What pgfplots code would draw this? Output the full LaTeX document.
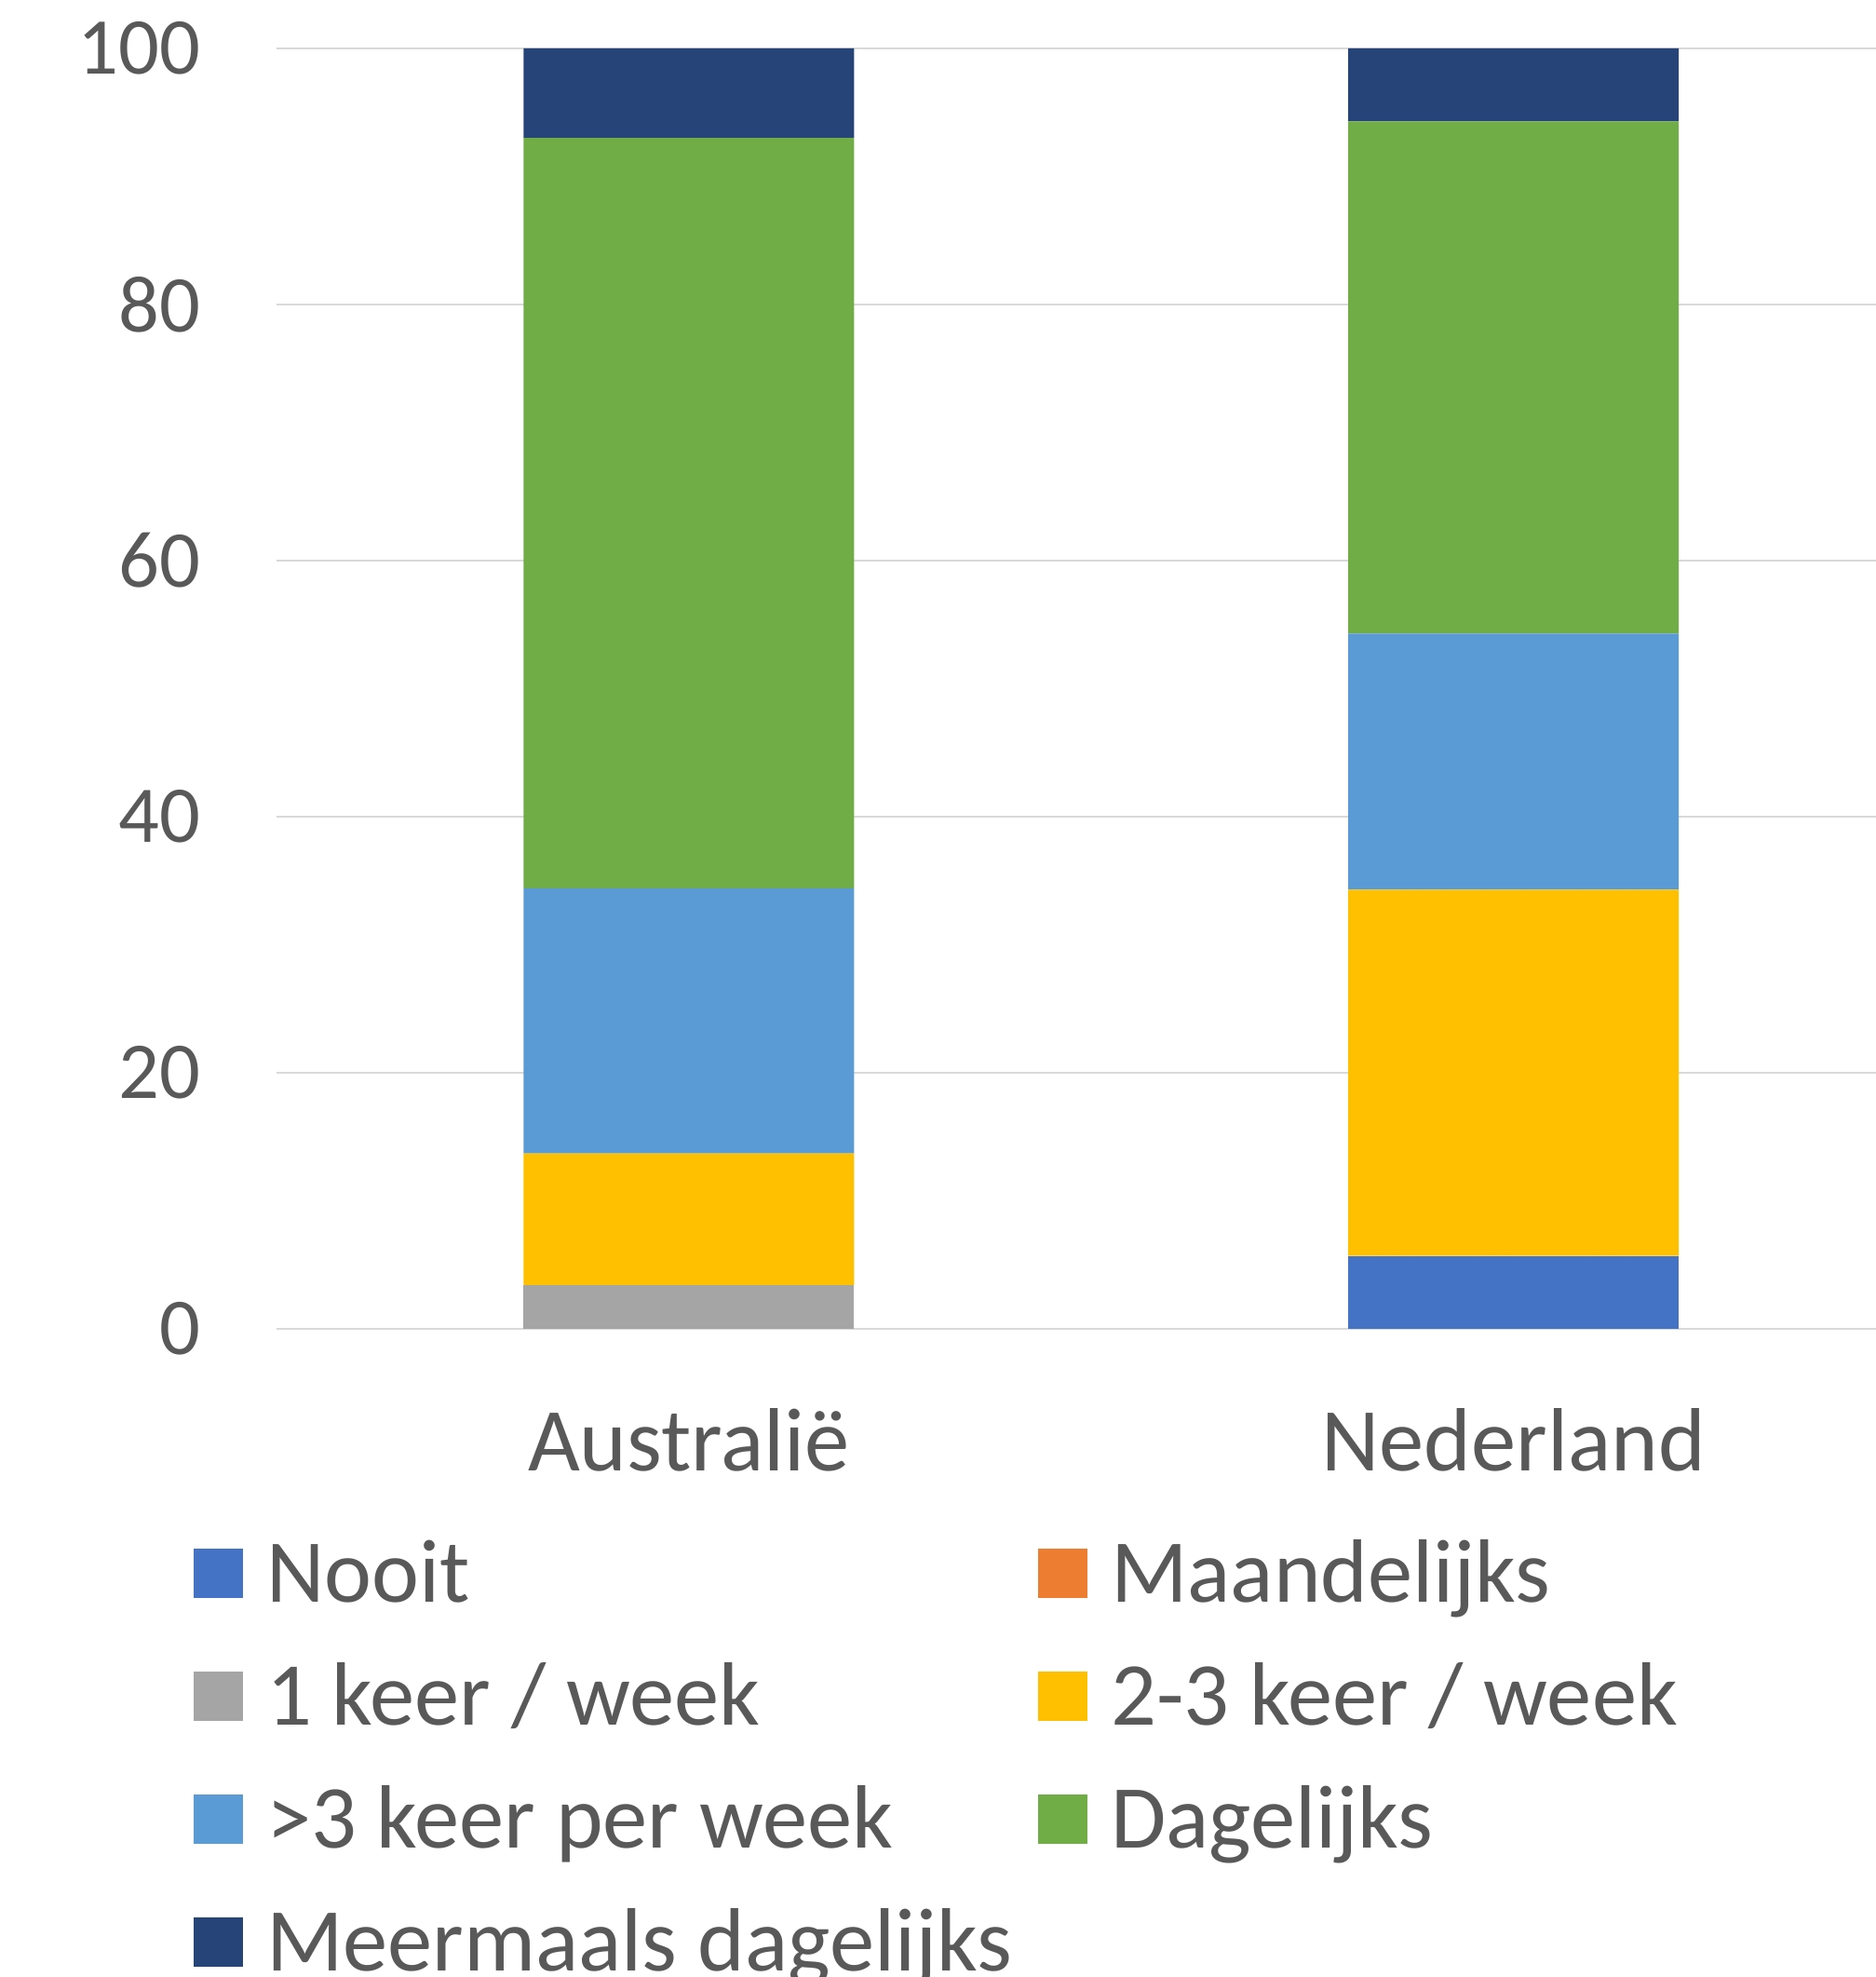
\documentclass[border=0pt]{standalone}
\usepackage{pgfplots}
\pgfplotsset{compat=1.18}
\usepackage{fontspec}
\setmainfont{Carlito}
\definecolor{txt}{HTML}{595959}
\definecolor{gridc}{HTML}{D9D9D9}
\definecolor{cNooit}{HTML}{4472C4}
\definecolor{cMaand}{HTML}{ED7D31}
\definecolor{cEen}{HTML}{A5A5A5}
\definecolor{cTwee}{HTML}{FFC000}
\definecolor{cDrie}{HTML}{5B9BD5}
\definecolor{cDag}{HTML}{70AD47}
\definecolor{cMeer}{HTML}{264478}
\begin{document}
\begin{tikzpicture}
\useasboundingbox (-59.4pt,-139.2pt) rectangle (343.6pt,285.4pt);
\begin{axis}[
  at={(0pt,0pt)}, anchor=south west,
  scale only axis, width=354.3pt, height=275pt,
  xmin=-0.5, xmax=1.5, ymin=0, ymax=100,
  enlargelimits=false,
  ybar stacked, bar width=71pt,
  axis line style={draw=none},
  major tick length=0pt,
  ymajorgrids, xmajorgrids=false,
  grid style={gridc, line width=0.45pt},
  xtick={0,1}, xticklabels={Australië, Nederland},
  ytick={0,20,40,60,80,100},
  /pgf/number format/assume math mode=true,
  yticklabel style={anchor=east, inner sep=0pt, xshift=-16.2pt, font=\fontsize{17.3}{21}\selectfont, text=txt},
  xticklabel style={anchor=base, inner sep=0pt, yshift=-30.5pt, font=\fontsize{19.3}{23}\selectfont, text=txt},
  legend columns=2,
  legend style={draw=none, fill=none, inner sep=0pt, at={(-0.0508,-0.168)}, anchor=north west,
    font=\fontsize{19.3}{23}\selectfont, text=txt,
    cells={anchor=west},
    nodes={inner sep=0pt, text height=12.2pt, text depth=0pt},
    row sep=14.2pt,
    /tikz/every odd column/.append style={column sep=5.0pt},
    /tikz/every even column/.append style={column sep=5.6pt}},
  legend image code/.code={\fill[#1] (0pt,-5.3pt) rectangle (10.6pt,5.3pt);},
]
\addplot[fill=cNooit, draw=none] coordinates {(0,0) (1,5.7)};
\addlegendentry{Nooit}
\addplot[fill=cMaand, draw=none] coordinates {(0,0) (1,0)};
\addlegendentry{Maandelijks}
\addplot[fill=cEen, draw=none] coordinates {(0,3.4) (1,0)};
\addlegendentry{1 keer / week}
\addplot[fill=cTwee, draw=none] coordinates {(0,10.3) (1,28.6)};
\addlegendentry{2-3 keer / week}
\addplot[fill=cDrie, draw=none] coordinates {(0,20.7) (1,20.0)};
\addlegendentry{>3 keer per week}
\addplot[fill=cDag, draw=none] coordinates {(0,58.6) (1,40.0)};
\addlegendentry{Dagelijks}
\addplot[fill=cMeer, draw=none] coordinates {(0,7.0) (1,5.7)};
\addlegendentry{Meermaals dagelijks}
\end{axis}
\end{tikzpicture}
\end{document}
